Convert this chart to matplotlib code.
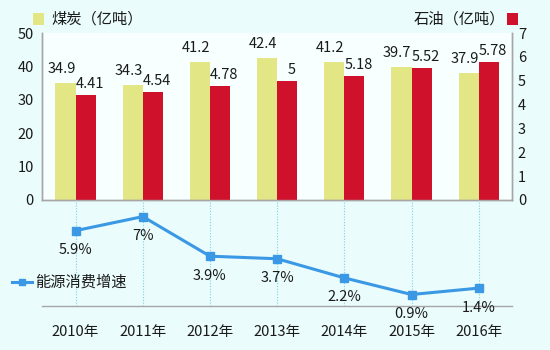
import matplotlib
matplotlib.use("Agg")
import matplotlib.pyplot as plt
from matplotlib.patches import Rectangle
from matplotlib.lines import Line2D
import numpy as np

plt.rcParams["font.family"] = ["Noto Sans CJK SC", "DejaVu Sans"]

years = ["2010年", "2011年", "2012年", "2013年", "2014年", "2015年", "2016年"]
coal = [34.9, 34.3, 41.2, 42.4, 41.2, 39.7, 37.9]
oil = [4.41, 4.54, 4.78, 5, 5.18, 5.52, 5.78]
growth = [5.9, 7, 3.9, 3.7, 2.2, 0.9, 1.4]
growth_labels = ["5.9%", "7%", "3.9%", "3.7%", "2.2%", "0.9%", "1.4%"]

BG = "#eafcfc"
COAL_COLOR = "#e3e685"
OIL_COLOR = "#d0112b"
LINE_COLOR = "#3a98e4"
AXIS_GRAY = "#a6a6a6"
TEXT = "#1a1a1a"
FS = 10.5

fig = plt.figure(figsize=(5.5, 3.5), dpi=100, facecolor=BG)
x = np.arange(len(years))
w = 0.3

# top: bars
ax = fig.add_axes([0.0764, 0.4286, 0.855, 0.4771])
ax.set_facecolor("#f7ffff")
ax2 = ax.twinx()
ax.bar(x - w / 2, coal, width=w, color=COAL_COLOR, zorder=2)
ax2.bar(x + w / 2, oil, width=w, color=OIL_COLOR, zorder=2)
ax.set_xlim(-0.5, len(years) - 0.5)
ax.set_ylim(0, 50)
ax2.set_ylim(0, 7)
ax.set_yticks(range(0, 51, 10))
ax2.set_yticks(range(0, 8))
ax.set_xticks([])
for a in (ax, ax2):
    a.spines["top"].set_visible(False)
    for s in ("left", "right", "bottom"):
        a.spines[s].set_color(AXIS_GRAY)
        a.spines[s].set_linewidth(1.0)
    a.tick_params(axis="y", length=0, labelsize=FS, colors=TEXT, pad=6)
ax2.tick_params(axis="y", pad=4)

for i, v in enumerate(coal):
    ax.annotate(f"{v:g}", (x[i] - w / 2, v), xytext=(-3, 5), textcoords="offset points",
                ha="center", va="bottom", fontsize=FS, color=TEXT, zorder=3)
for i, v in enumerate(oil):
    ax2.annotate(f"{v:g}", (x[i] + w / 2, v), xytext=(3, 3), textcoords="offset points",
                 ha="center", va="bottom", fontsize=FS, color=TEXT, zorder=3)

# bottom: line
bx = fig.add_axes([0.0764, 0.1257, 0.855, 0.3029])
bx.patch.set_alpha(0)
bx.set_xlim(-0.5, len(years) - 0.5)
bx.set_ylim(0, 8.3)
for xi in x:
    bx.axvline(xi, color="#7fd3e0", linestyle=(0, (1, 1.5)), linewidth=0.8, zorder=1)
bx.plot(x, growth, color=LINE_COLOR, linewidth=2.2, marker="s", markersize=6, zorder=3)
for i, v in enumerate(growth):
    bx.annotate(growth_labels[i], (x[i], v), xytext=(0, -9), textcoords="offset points",
                ha="center", va="top", fontsize=FS, color=TEXT)
for s in ("top", "left", "right"):
    bx.spines[s].set_visible(False)
bx.spines["bottom"].set_color(AXIS_GRAY)
bx.spines["bottom"].set_linewidth(1.0)
bx.set_yticks([])
bx.set_xticks(x)
bx.set_xticklabels(years)
bx.tick_params(axis="x", length=0, pad=14, labelsize=FS, colors=TEXT)

# legends
fig.patches.append(Rectangle((33 / 550, 1 - 25 / 350), 11 / 550, 12 / 350, transform=fig.transFigure,
                             facecolor=COAL_COLOR, edgecolor="none"))
fig.text(51 / 550, 1 - 19 / 350, "煤炭（亿吨）", ha="left", va="center", fontsize=11, color=TEXT)
fig.patches.append(Rectangle((507 / 550, 1 - 25 / 350), 11 / 550, 12 / 350, transform=fig.transFigure,
                             facecolor=OIL_COLOR, edgecolor="none"))
fig.text(505 / 550, 1 - 19 / 350, "石油（亿吨）", ha="right", va="center", fontsize=11, color=TEXT)

fig.lines.append(Line2D([12 / 550, 32 / 550], [1 - 282 / 350, 1 - 282 / 350], transform=fig.transFigure,
                        color=LINE_COLOR, linewidth=2.2))
fig.lines.append(Line2D([22 / 550], [1 - 282 / 350], transform=fig.transFigure, color=LINE_COLOR,
                        marker="s", markersize=5))
fig.text(35 / 550, 1 - 282 / 350, "能源消费增速", ha="left", va="center", fontsize=11, color=TEXT)

fig.savefig("out.png", dpi=100, facecolor=BG)
